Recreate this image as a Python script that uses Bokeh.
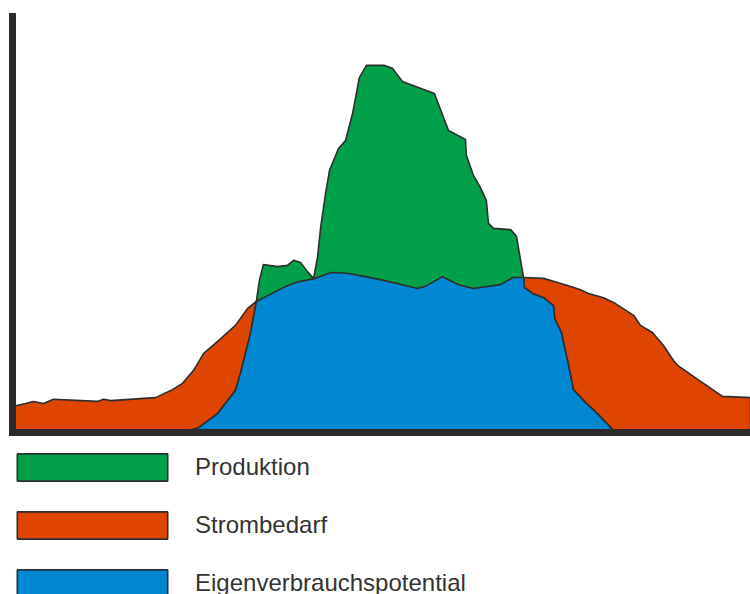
import numpy as np
from bokeh.plotting import figure
from bokeh.layouts import column
from bokeh.models import Range1d, Legend, LegendItem, FixedTicker
from bokeh.embed import file_html
from bokeh.resources import INLINE

# --- data (time of day in hours, power in kW) ---
demand_x = [0.00, 0.42, 0.68, 1.01, 1.33, 2.76, 2.96, 3.19, 4.65, 5.20, 5.53, 5.89,
            6.21, 6.70, 7.25, 7.64, 7.93, 8.81, 9.20, 9.85, 10.37, 10.89, 11.97,
            13.17, 13.43, 13.98, 14.50, 14.99, 15.87, 16.10, 16.29, 16.62, 17.27,
            17.59, 18.05, 18.47, 18.73, 19.22, 19.61, 20.20, 20.42, 20.81, 21.17,
            21.50, 21.63, 22.47, 23.09, 24.00]
demand_y = [0.62, 0.69, 0.74, 0.69, 0.79, 0.74, 0.79, 0.76, 0.83, 1.02, 1.17, 1.48,
            1.88, 2.19, 2.55, 2.95, 3.12, 3.45, 3.57, 3.67, 3.81, 3.79, 3.64,
            3.43, 3.48, 3.71, 3.52, 3.43, 3.52, 3.62, 3.69, 3.69, 3.67,
            3.60, 3.50, 3.40, 3.31, 3.21, 3.07, 2.79, 2.55, 2.38, 2.07,
            1.71, 1.60, 1.17, 0.86, 0.83]

prod_x = [0.00, 5.46, 6.02, 6.67, 7.25, 7.41, 7.74, 7.93, 8.03, 8.16, 8.62, 8.94,
          9.14, 9.37, 9.59, 9.79, 9.92, 10.02, 10.18, 10.31, 10.60, 10.83, 11.06,
          11.28, 11.51, 12.10, 12.36, 12.68, 13.72, 14.18, 14.73, 14.76, 14.99,
          15.22, 15.41, 15.48, 15.64, 16.20, 16.39, 16.62, 16.65, 16.91, 17.27,
          17.59, 17.63, 17.85, 18.05, 18.24, 18.57, 19.02, 19.54, 19.77, 24.00]
prod_y = [0.00, 0.00, 0.10, 0.45, 1.00, 1.40, 2.36, 3.12, 3.62, 4.00, 3.95, 3.98,
          4.10, 4.05, 3.83, 3.67, 4.17, 4.88, 5.69, 6.24, 6.76, 6.95, 7.60,
          8.45, 8.74, 8.74, 8.67, 8.36, 8.07, 7.19, 6.98, 6.60, 6.12,
          5.83, 5.52, 4.98, 4.86, 4.83, 4.67, 3.69, 3.45, 3.31, 3.21,
          3.02, 2.71, 2.38, 1.71, 1.02, 0.76, 0.45, 0.05, 0.00, 0.00]

self_x = [0.00, 5.46, 6.02, 6.67, 7.25, 7.41, 7.74, 7.93, 8.81, 9.20, 9.85, 10.37,
          10.89, 11.97, 13.17, 13.43, 13.98, 14.50, 14.99, 15.87, 16.10, 16.29,
          16.62, 16.65, 16.91, 17.27, 17.59, 17.63, 17.85, 18.05, 18.24, 18.57,
          19.02, 19.54, 19.77, 24.00]
self_y = [0.00, 0.00, 0.10, 0.45, 1.00, 1.40, 2.36, 3.12, 3.45, 3.57, 3.67, 3.81,
          3.79, 3.64, 3.43, 3.48, 3.71, 3.52, 3.43, 3.52, 3.62, 3.69,
          3.69, 3.45, 3.31, 3.21, 3.02, 2.71, 2.38, 1.71, 1.02, 0.76,
          0.45, 0.05, 0.00, 0.00]

labels = ["Produktion", "Strombedarf", "Eigenverbrauchspotential"]
colors = {"Produktion": "#009F4A", "Strombedarf": "#DE4500", "Eigenverbrauchspotential": "#0088D3"}
OUTLINE = "#2E2E2E"

series = {
    "Strombedarf": (demand_x, demand_y),
    "Produktion": (prod_x, prod_y),
    "Eigenverbrauchspotential": (self_x, self_y),
}


def closed(xs, ys):
    xs = np.asarray(xs, dtype=float)
    ys = np.asarray(ys, dtype=float)
    return (np.concatenate([[xs[0]], xs, [xs[-1]]]),
            np.concatenate([[0.0], ys, [0.0]]))


# ---------------- main chart ----------------
p = figure(width=750, height=436, output_backend="svg", toolbar_location=None,
           x_range=Range1d(0, 24), y_range=Range1d(0, 416 / 42),
           min_border_left=12, min_border_right=0, min_border_top=16,
           min_border_bottom=4)
p.outline_line_color = None
p.grid.visible = False
p.background_fill_color = "white"

for name in ["Strombedarf", "Produktion", "Eigenverbrauchspotential"]:
    xs, ys = closed(*series[name])
    p.patch(xs, ys, fill_color=colors[name], line_color=OUTLINE,
            line_width=1.6, line_join="round")

for ax in (p.xaxis, p.yaxis):
    ax.ticker = FixedTicker(ticks=[])
    ax.major_label_text_font_size = "0px"
    ax.major_label_standoff = 0
    ax.major_tick_in = 0
    ax.major_tick_out = 0
    ax.minor_tick_in = 0
    ax.minor_tick_out = 0
    ax.major_tick_line_color = None
    ax.minor_tick_line_color = None
    ax.axis_line_color = "#2B2B2B"
    ax.axis_line_width = 7
    ax.axis_line_cap = "square"

# ---------------- legend strip ----------------
# the same series are drawn here outside the visible range, only to feed the legend
q = figure(width=750, height=158, output_backend="svg", toolbar_location=None,
           x_range=Range1d(-2, -1), y_range=Range1d(0, 1),
           min_border_left=0, min_border_right=0, min_border_top=0,
           min_border_bottom=0)
q.outline_line_color = None
q.grid.visible = False
q.axis.visible = False

items = []
for l in labels:
    xs, ys = closed(*series[l])
    r = q.patch(xs, ys, fill_color=colors[l], line_color=OUTLINE, line_width=1.6)
    items.append(LegendItem(label=l, renderers=[r]))

legend = Legend(items=items, location=(-14, -6), orientation="vertical",
                glyph_width=188, glyph_height=34, label_height=34,
                label_standoff=9, spacing=24, padding=0, margin=0,
                label_text_font="Liberation Sans", label_text_font_size="24px",
                label_text_color="#333333",
                border_line_alpha=0, background_fill_alpha=0)
q.add_layout(legend, "center")

layout = column(p, q, spacing=0)
open("out.html", "w").write(file_html(layout, INLINE))
